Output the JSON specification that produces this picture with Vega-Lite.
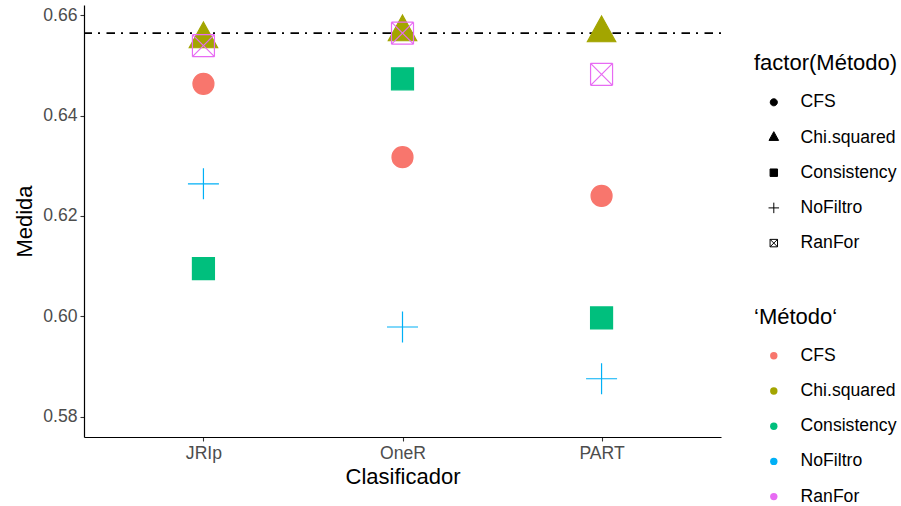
{
  "$schema": "https://vega.github.io/schema/vega-lite/v6.json",
  "width": 637,
  "height": 432,
  "autosize": {"type": "none"},
  "padding": {"left": 84, "top": 5, "right": 180, "bottom": 69},
  "background": "white",
  "config": {
    "font": "Liberation Sans",
    "view": {"stroke": null},
    "axis": {
      "grid": false,
      "domainColor": "black",
      "domainWidth": 1.2,
      "tickColor": "#333333",
      "tickSize": 4,
      "tickWidth": 1.1,
      "labelColor": "#4D4D4D",
      "labelFontSize": 17.6,
      "labelFont": "Liberation Sans",
      "titleColor": "black",
      "titleFontSize": 22,
      "titleFontWeight": "normal",
      "titleFont": "Liberation Sans"
    },
    "legend": {
      "titleFont": "Liberation Sans",
      "labelFont": "Liberation Sans",
      "titleFontSize": 22,
      "titleFontWeight": "normal",
      "titleColor": "black",
      "labelFontSize": 17.6,
      "labelColor": "black",
      "labelLimit": 200
    }
  },
  "datasets": {
    "pts": [
      {"Clasificador": "JRIp", "Metodo": "CFS", "Método": "CFS", "Medida": 0.6463},
      {"Clasificador": "JRIp", "Metodo": "Chi.squared", "Método": "Chi.squared", "Medida": 0.6552},
      {"Clasificador": "JRIp", "Metodo": "Consistency", "Método": "Consistency", "Medida": 0.6095},
      {"Clasificador": "JRIp", "Metodo": "NoFiltro", "Método": "NoFiltro", "Medida": 0.6264},
      {"Clasificador": "JRIp", "Metodo": "RanFor", "Método": "RanFor", "Medida": 0.6539},
      {"Clasificador": "OneR", "Metodo": "CFS", "Método": "CFS", "Medida": 0.6317},
      {"Clasificador": "OneR", "Metodo": "Chi.squared", "Método": "Chi.squared", "Medida": 0.6566},
      {"Clasificador": "OneR", "Metodo": "Consistency", "Método": "Consistency", "Medida": 0.6473},
      {"Clasificador": "OneR", "Metodo": "NoFiltro", "Método": "NoFiltro", "Medida": 0.5979},
      {"Clasificador": "OneR", "Metodo": "RanFor", "Método": "RanFor", "Medida": 0.6564},
      {"Clasificador": "PART", "Metodo": "CFS", "Método": "CFS", "Medida": 0.6240},
      {"Clasificador": "PART", "Metodo": "Chi.squared", "Método": "Chi.squared", "Medida": 0.6564},
      {"Clasificador": "PART", "Metodo": "Consistency", "Método": "Consistency", "Medida": 0.5997},
      {"Clasificador": "PART", "Metodo": "NoFiltro", "Método": "NoFiltro", "Medida": 0.5876},
      {"Clasificador": "PART", "Metodo": "RanFor", "Método": "RanFor", "Medida": 0.6482}
    ],
    "ref": [{"Medida": 0.6564}]
  },
  "layer": [
    {
      "data": {"name": "ref"},
      "mark": {"type": "rule", "color": "black", "strokeWidth": 1.8, "strokeDash": [2, 6, 8.5, 6.5]},
      "encoding": {
        "y": {"field": "Medida", "type": "quantitative"}
      }
    },
    {
      "data": {"name": "pts"},
      "mark": {"type": "point", "filled": true, "opacity": 1, "size": 400, "strokeWidth": 1.2},
      "encoding": {
        "x": {
          "field": "Clasificador",
          "type": "nominal",
          "sort": ["JRIp", "OneR", "PART"],
          "scale": {"type": "point", "padding": 0.6},
          "axis": {"title": "Clasificador", "labelAngle": 0, "labelPadding": 3, "titlePadding": 5, "domainColor": "black"}
        },
        "y": {
          "field": "Medida",
          "type": "quantitative",
          "scale": {"domain": [0.576, 0.662], "nice": false, "zero": false},
          "axis": {"title": "Medida", "values": [0.58, 0.6, 0.62, 0.64, 0.66], "format": ".2f", "labelPadding": 3, "titlePadding": 6}
        },
        "shape": {
          "field": "Metodo",
          "type": "nominal",
          "scale": {
            "domain": ["CFS", "Chi.squared", "Consistency", "NoFiltro", "RanFor"],
            "range": [
              "M-1.05,0A1.05,1.05,0,1,1,1.05,0A1.05,1.05,0,1,1,-1.05,0Z",
              "M0,-1.72L1.42,0.86L-1.42,0.86Z",
              "M-1.1,-1.1L1.1,-1.1L1.1,1.1L-1.1,1.1Z",
              "M-1.55,0L1.55,0M0,-1.55L0,1.55",
              "M-1.1,-1.1L1.1,-1.1M1.1,-1.1L1.1,1.1M1.1,1.1L-1.1,1.1M-1.1,1.1L-1.1,-1.1M-1.1,-1.1L1.1,1.1M1.1,-1.1L-1.1,1.1"
            ]
          },
          "legend": {
            "title": "factor(Método)",
            "orient": "none",
            "legendX": 670,
            "legendY": 48,
            "symbolSize": 46,
            "symbolFillColor": "black",
            "symbolStrokeColor": "black",
            "symbolStrokeWidth": 1,
            "rowPadding": 16.2,
            "labelOffset": 18,
            "titlePadding": 18.5,
            "symbolOffset": 11
          }
        },
        "color": {
          "field": "Método",
          "type": "nominal",
          "scale": {
            "range": ["#F8766D", "#A3A500", "#00BF7D", "#00B0F6", "#E76BF3"]
          },
          "legend": {
            "title": "‘Método‘",
            "orient": "none",
            "legendX": 670,
            "legendY": 302,
            "symbolType": "circle",
            "symbolSize": 55,
            "symbolStrokeWidth": 0,
            "rowPadding": 16.2,
            "labelOffset": 18,
            "titlePadding": 18,
            "symbolOffset": 11
          }
        },
        "stroke": {
          "field": "Método",
          "type": "nominal",
          "scale": {
            "range": ["#F8766D", "#A3A500", "#00BF7D", "#00B0F6", "#E76BF3"]
          },
          "legend": null
        },
        "order": {"field": "Metodo"}
      }
    }
  ]
}
